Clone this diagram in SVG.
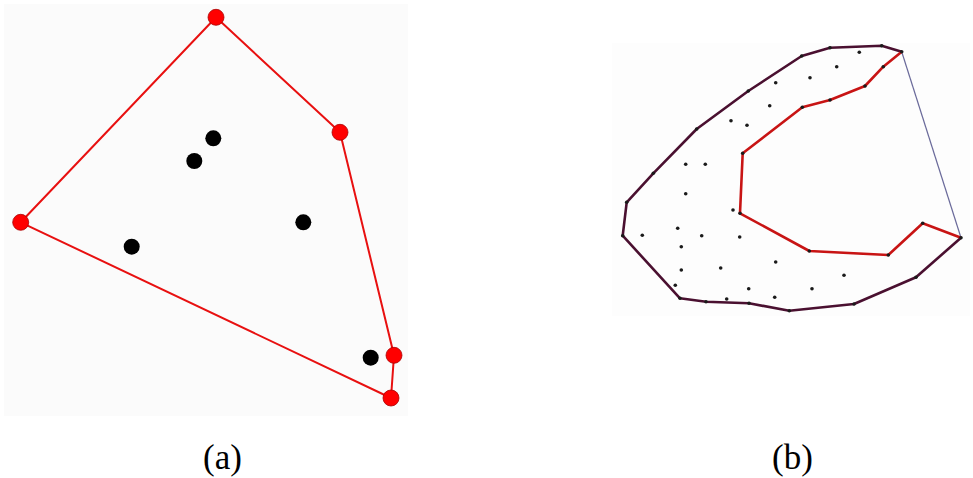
<svg xmlns="http://www.w3.org/2000/svg" width="973" height="478" viewBox="0 0 973 478">
<style>
.hullA{fill:none;stroke:#e81010;stroke-width:2;stroke-linejoin:round}
.rv{fill:#f00;stroke:#a00;stroke-width:0.8}
.bp{fill:#000}
.outer{fill:none;stroke:#4a1030;stroke-width:2.6;stroke-linejoin:round}
.inner{fill:none;stroke:#c81414;stroke-width:2.6;stroke-linejoin:round}
.blue{stroke:#6a6a9a;stroke-width:1.2}
.dot{fill:#1a1a1a}
.lbl{font-family:"Liberation Serif","Times New Roman",serif;font-size:35px;fill:#000;text-anchor:middle}
</style>
<rect width="973" height="478" fill="#fff"/>
<rect x="4" y="4" width="404" height="412" fill="#fbfbfb"/>
<rect x="612" y="43" width="358" height="273" fill="#fdfdfd"/>
<g id="a-hull">
<polygon class="hullA" points="216,17.3 340,132.3 394,355.3 391,398 20.7,222.3"/>
</g>
<g id="a-points">
<circle class="rv" cx="216" cy="17.3" r="8"/>
<circle class="rv" cx="340" cy="132.3" r="8"/>
<circle class="rv" cx="20.7" cy="222.3" r="8"/>
<circle class="rv" cx="394" cy="355.3" r="8"/>
<circle class="rv" cx="391" cy="398" r="8"/>
<circle class="bp" cx="213.3" cy="138.3" r="8"/>
<circle class="bp" cx="194.3" cy="161" r="8"/>
<circle class="bp" cx="303.3" cy="222.3" r="8"/>
<circle class="bp" cx="131.7" cy="246.7" r="8"/>
<circle class="bp" cx="370.7" cy="357.7" r="8"/>
</g>
<g id="b-hull">
<polyline class="outer" points="901.7,51.7 881.7,45.7 830,47.7 801.7,56 748.3,91 696.7,129 653.3,173.3 626.7,202.3 622.7,235.7 680,298.3 706,301.7 749,303.3 789.3,310.7 854,304 916,277.3 961,237.7"/>
<line class="blue" x1="901.7" y1="51.7" x2="961" y2="237.7"/>
<polyline class="inner" points="961,237.7 922.7,223.3 888.3,255 809.3,251 740,213.3 742.7,153.3 802.3,107.3 830,100 865,86 883.3,66.7 901.7,51.7"/>
</g>
<g id="b-points">
<circle class="dot" cx="901.7" cy="51.7" r="1.8"/>
<circle class="dot" cx="881.7" cy="45.7" r="1.8"/>
<circle class="dot" cx="830" cy="47.7" r="1.8"/>
<circle class="dot" cx="801.7" cy="56" r="1.8"/>
<circle class="dot" cx="748.3" cy="91" r="1.8"/>
<circle class="dot" cx="696.7" cy="129" r="1.8"/>
<circle class="dot" cx="653.3" cy="173.3" r="1.8"/>
<circle class="dot" cx="626.7" cy="202.3" r="1.8"/>
<circle class="dot" cx="622.7" cy="235.7" r="1.8"/>
<circle class="dot" cx="680" cy="298.3" r="1.8"/>
<circle class="dot" cx="706" cy="301.7" r="1.8"/>
<circle class="dot" cx="749" cy="303.3" r="1.8"/>
<circle class="dot" cx="789.3" cy="310.7" r="1.8"/>
<circle class="dot" cx="854" cy="304" r="1.8"/>
<circle class="dot" cx="916" cy="277.3" r="1.8"/>
<circle class="dot" cx="961" cy="237.7" r="1.8"/>
<circle class="dot" cx="922.7" cy="223.3" r="1.8"/>
<circle class="dot" cx="888.3" cy="255" r="1.8"/>
<circle class="dot" cx="809.3" cy="251" r="1.8"/>
<circle class="dot" cx="740" cy="213.3" r="1.8"/>
<circle class="dot" cx="742.7" cy="153.3" r="1.8"/>
<circle class="dot" cx="802.3" cy="107.3" r="1.8"/>
<circle class="dot" cx="830" cy="100" r="1.8"/>
<circle class="dot" cx="865" cy="86" r="1.8"/>
<circle class="dot" cx="883.3" cy="66.7" r="1.8"/>
<circle class="dot" cx="859.3" cy="52.3" r="1.8"/>
<circle class="dot" cx="836.7" cy="66.7" r="1.8"/>
<circle class="dot" cx="810" cy="77.7" r="1.8"/>
<circle class="dot" cx="775.7" cy="82.7" r="1.8"/>
<circle class="dot" cx="769.7" cy="105.7" r="1.8"/>
<circle class="dot" cx="731" cy="120.7" r="1.8"/>
<circle class="dot" cx="747" cy="125.3" r="1.8"/>
<circle class="dot" cx="685.7" cy="164.3" r="1.8"/>
<circle class="dot" cx="705.3" cy="164.3" r="1.8"/>
<circle class="dot" cx="685.7" cy="193.7" r="1.8"/>
<circle class="dot" cx="733" cy="210" r="1.8"/>
<circle class="dot" cx="677.7" cy="228.3" r="1.8"/>
<circle class="dot" cx="642.3" cy="235.3" r="1.8"/>
<circle class="dot" cx="701.7" cy="235.7" r="1.8"/>
<circle class="dot" cx="739.7" cy="237" r="1.8"/>
<circle class="dot" cx="681.3" cy="246.7" r="1.8"/>
<circle class="dot" cx="775.7" cy="262" r="1.8"/>
<circle class="dot" cx="681.3" cy="270" r="1.8"/>
<circle class="dot" cx="720.7" cy="268" r="1.8"/>
<circle class="dot" cx="844" cy="275.3" r="1.8"/>
<circle class="dot" cx="675.3" cy="285.3" r="1.8"/>
<circle class="dot" cx="748.7" cy="288.7" r="1.8"/>
<circle class="dot" cx="812" cy="288.7" r="1.8"/>
<circle class="dot" cx="726.7" cy="299" r="1.8"/>
<circle class="dot" cx="774.7" cy="297.3" r="1.8"/>
</g>
<g id="labels">
<text class="lbl" x="222.5" y="469">(a)</text>
<text class="lbl" x="792.5" y="469">(b)</text>
</g>
</svg>
